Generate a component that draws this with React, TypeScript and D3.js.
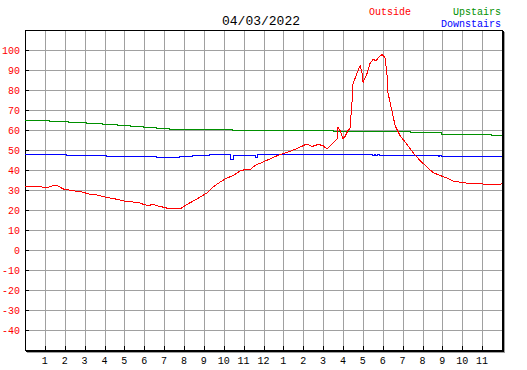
import React, { useEffect, useRef } from "react";
import * as d3 from "d3";

// readings for 04/03/2022, hours since midnight
const outsideHours = [
  0, 0.75, 1.16, 1.36, 1.66, 1.91, 2.36, 2.92, 3.17, 3.62, 4.03, 4.53, 4.78, 5.18,
  5.64, 5.89, 6.19, 6.44, 6.69, 6.94, 7.3, 7.8, 8.15, 8.65, 9.16, 9.46, 9.81, 10.16,
  10.47, 10.82, 11.17, 11.32, 11.57, 11.92, 12.33, 12.83, 13.33, 13.84, 14.19, 14.44,
  14.74, 14.99, 15.19, 15.45, 15.7, 15.75, 15.85, 16.0, 16.1, 16.25, 16.35, 16.45,
  16.5, 16.7, 16.86, 16.96, 17.01, 17.21, 17.36, 17.51, 17.66, 17.81, 17.96, 18.11,
  18.21, 18.26, 18.47, 18.62, 18.87, 19.22, 19.52, 19.87, 20.23, 20.53, 20.88, 21.23,
  21.53, 22.24, 22.89, 23.8, 24,
];
const outsideTemps = [
  32, 31.8, 31.6, 32.3, 32.3, 30.8, 30, 29.2, 28.3, 27.8, 26.7, 25.8, 25.3, 24.3,
  24.2, 23.3, 22.5, 23, 22.3, 21.7, 20.8, 20.8, 23, 25.8, 28.8, 31.7, 34.2, 36.2,
  37.5, 39.7, 40.8, 40.3, 42.5, 44, 45.8, 48, 49.5, 51.7, 53.3, 52,
  53, 52.5, 50.8, 53.3, 55.8, 61.7, 60, 56, 57, 60, 61, 73.5,
  83.3, 88.5, 92.5, 88.5, 84, 88.5, 93.5, 95.5, 95, 96.7, 98, 96.7,
  88.5, 79, 69.5, 62.5, 57.5, 53, 49, 45, 41.7, 39, 37.5, 36.3,
  34.7, 33.7, 33.3, 33, 33.3,
];

const upstairsHours = [
  0, 1.21, 2.21, 3.07, 3.92, 4.63, 5.33, 5.94, 6.64, 7.25, 10.42, 15.5, 19.42, 20.98,
  21.99, 23.45, 24,
];
const upstairsTemps = [
  64.8, 64.3, 63.8, 63.3, 62.8, 62.3, 61.9, 61.5, 61.0, 60.4, 60.0, 59.6, 58.8, 58.2,
  57.8, 57.4, 57.4,
];

const downstairsHours = [
  0, 2.1, 4.11, 6.63, 7.75, 8.45, 9.26, 10.35, 10.5, 11.62, 11.72, 17.46, 17.56,
  17.66, 17.76, 17.86, 20.78, 20.88, 20.98, 24,
];
const downstairsTemps = [
  48, 47.5, 46.8, 46.3, 46.8, 47.5, 48.2, 45.5, 47.5, 46.7, 48, 47.6, 48.1,
  47.6, 48.1, 47.5, 47.1, 47.6, 46.8, 46.8,
];

const hourLabels = [
  "1", "2", "3", "4", "5", "6", "7", "8", "9", "10", "11", "12",
  "1", "2", "3", "4", "5", "6", "7", "8", "9", "10", "11",
];
const tempTicks = [100, 90, 80, 70, 60, 50, 40, 30, 20, 10, 0, -10, -20, -30, -40];

const W = 527;
const H = 370;
const left = 25;
const right = 502;
const top = 30;
const bottom = 350;
const mono = "'Liberation Mono', 'DejaVu Sans Mono', monospace";

const App: React.FC = () => {
  const svgRef = useRef<SVGSVGElement>(null);

  useEffect(() => {
    const svg = d3.select(svgRef.current!);
    svg.selectAll("*").remove();

    const x = d3.scaleLinear().domain([0, 24]).range([left, right]);
    const y = d3.scaleLinear().domain([-50, 110]).range([bottom, top]);
    const px = (v: number) => Math.round(v) + 0.5;

    svg.append("rect").attr("width", W).attr("height", H).attr("fill", "#fff");

    const grid = svg.append("g").attr("stroke", "#a0a0a0").attr("shape-rendering", "crispEdges");
    grid
      .selectAll("line.v")
      .data(hourLabels)
      .join("line")
      .attr("x1", (_, i) => px(x(i + 1)))
      .attr("x2", (_, i) => px(x(i + 1)))
      .attr("y1", top)
      .attr("y2", bottom);
    grid
      .selectAll("line.h")
      .data(tempTicks)
      .join("line")
      .attr("x1", left)
      .attr("x2", right)
      .attr("y1", (d) => px(y(d)))
      .attr("y2", (d) => px(y(d)));

    // frame with a small drop shadow
    const frame = svg.append("g").attr("shape-rendering", "crispEdges").attr("fill", "none");
    frame.append("path").attr("stroke", "#a0a0a0")
      .attr("d", `M${right + 2.5},${top + 2}V${bottom + 2.5}H${left + 2}`);
    frame.append("path").attr("stroke", "#000")
      .attr("d", `M${right + 1.5},${top + 1}V${bottom + 1.5}H${left + 1}`);
    frame.append("rect").attr("stroke", "#000")
      .attr("x", left + 0.5).attr("y", top + 0.5)
      .attr("width", right - left).attr("height", bottom - top);

    const ticks = svg.append("g").attr("stroke", "#000").attr("shape-rendering", "crispEdges");
    ticks
      .selectAll("line.yt")
      .data(tempTicks)
      .join("line")
      .attr("x1", left)
      .attr("x2", left + 4)
      .attr("y1", (d) => px(y(d)))
      .attr("y2", (d) => px(y(d)));
    ticks
      .selectAll("line.xt")
      .data(hourLabels)
      .join("line")
      .attr("x1", (_, i) => px(x(i + 1)))
      .attr("x2", (_, i) => px(x(i + 1)))
      .attr("y1", bottom)
      .attr("y2", bottom - 4);

    svg
      .append("g")
      .selectAll("text")
      .data(tempTicks)
      .join("text")
      .attr("x", 20)
      .attr("y", (d) => y(d) + 4)
      .attr("text-anchor", "end")
      .attr("font-family", mono)
      .attr("font-size", 10)
      .attr("fill", "#ff0000")
      .text((d) => d);

    svg
      .append("g")
      .selectAll("text")
      .data(hourLabels)
      .join("text")
      .attr("x", (_, i) => x(i + 1))
      .attr("y", 364)
      .attr("text-anchor", "middle")
      .attr("font-family", mono)
      .attr("font-size", 10)
      .attr("fill", "#000")
      .text((d) => d);

    const series = [
      { hours: upstairsHours, temps: upstairsTemps, color: "#009000", curve: d3.curveStepAfter },
      { hours: downstairsHours, temps: downstairsTemps, color: "#0000ff", curve: d3.curveStepAfter },
      { hours: outsideHours, temps: outsideTemps, color: "#ff0000", curve: d3.curveLinear },
    ];
    series.forEach((s) => {
      const line = d3
        .line<number>()
        .x((h) => x(h))
        .y((_, i) => y(s.temps[i]) + 0.5)
        .curve(s.curve);
      svg
        .append("path")
        .attr("d", line(s.hours))
        .attr("fill", "none")
        .attr("stroke", s.color)
        .attr("stroke-width", 1)
        .attr("shape-rendering", "crispEdges");
    });

    svg.append("text")
      .attr("x", 261).attr("y", 25)
      .attr("text-anchor", "middle")
      .attr("font-family", mono).attr("font-size", 13)
      .attr("fill", "#000")
      .text("04/03/2022");

    const legend = [
      { label: "Outside", color: "#ff0000", x: 369, y: 15, anchor: "start" },
      { label: "Upstairs", color: "#009000", x: 501, y: 15, anchor: "end" },
      { label: "Downstairs", color: "#0000ff", x: 501, y: 27, anchor: "end" },
    ];
    svg
      .append("g")
      .selectAll("text")
      .data(legend)
      .join("text")
      .attr("x", (d) => d.x)
      .attr("y", (d) => d.y)
      .attr("text-anchor", (d) => d.anchor)
      .attr("font-family", mono)
      .attr("font-size", 10)
      .attr("fill", (d) => d.color)
      .text((d) => d.label);
  }, []);

  return (
    <svg
      ref={svgRef}
      width={W}
      height={H}
      style={{ position: "absolute", left: 0, top: 0, display: "block" }}
    />
  );
};

export default App;
